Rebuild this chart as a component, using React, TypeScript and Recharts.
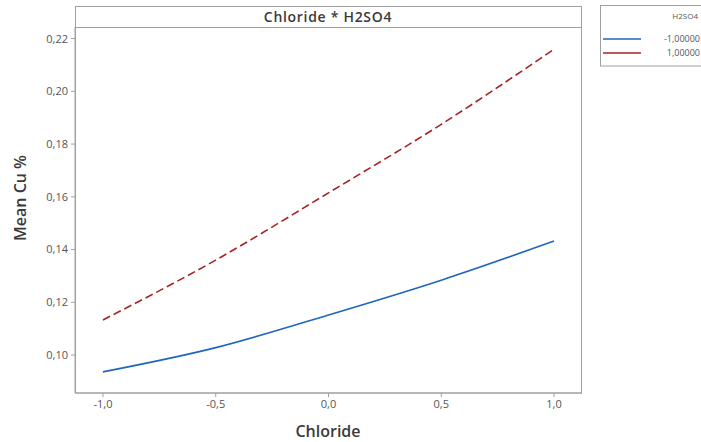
import React from 'react';
import { LineChart, Line, XAxis, YAxis } from 'recharts';

const chloride = [-1, -0.5, 0, 0.5, 1];
const h2so4Low = [0.0936, 0.1028, 0.1152, 0.1284, 0.1432];
const h2so4High = [0.1133, 0.136, 0.1615, 0.1875, 0.216];
const xTicks = [-1, -0.5, 0, 0.5, 1];
const yTicks = [0.1, 0.12, 0.14, 0.16, 0.18, 0.2, 0.22];

const data = chloride.map((c, i) => ({ c, low: h2so4Low[i], high: h2so4High[i] }));

const FONT = '"Open Sans", "DejaVu Sans", sans-serif';
const comma = (v: number, d: number) => v.toFixed(d).replace('.', ',');

export default function App() {
  return (
    <div style={{ position: 'absolute', left: 0, top: 0, width: 701, height: 442, background: '#fff', fontFamily: FONT }}>
      <LineChart width={701} height={442} data={data} margin={{ top: 27, right: 119, bottom: 19, left: 30 }}>
        <XAxis dataKey="c" type="number" domain={[-1.124, 1.124]} ticks={xTicks} allowDataOverflow
          tickFormatter={(v) => comma(v, 1)} tickSize={4} tickMargin={3} height={30}
          stroke="#a0a0a0" tick={{ fill: '#555', fontSize: 11, fontFamily: FONT }} />
        <YAxis type="number" domain={[0.0856, 0.2244]} ticks={yTicks} allowDataOverflow
          tickFormatter={(v) => comma(v, 2)} tickSize={4} tickMargin={3} width={45}
          stroke="#a0a0a0" tick={{ fill: '#555', fontSize: 11, fontFamily: FONT }} />
        <Line dataKey="low" type="monotone" stroke="#1f66c0" strokeWidth={1.6} dot={false} isAnimationActive={false} />
        <Line dataKey="high" type="monotone" stroke="#a82222" strokeWidth={1.6} strokeDasharray="8 4" dot={false} isAnimationActive={false} />
      </LineChart>
      <svg width={701} height={442} style={{ position: 'absolute', left: 0, top: 0, pointerEvents: 'none' }}>
        <rect x={75.5} y={6.5} width={506} height={386.5} fill="none" stroke="#a0a0a0" />
        <line x1={75.5} x2={581.5} y1={27.5} y2={27.5} stroke="#a0a0a0" />
        <text x={328} y={22} textAnchor="middle" fontSize={14} fontWeight={600} letterSpacing={0.7} fill="#3a3a3a" fontFamily={FONT}>Chloride * H2SO4</text>
        <text x={328} y={437} textAnchor="middle" fontSize={16} fontWeight={600} fill="#3a3a3a" fontFamily={FONT}>Chloride</text>
        <text x={26} y={198} textAnchor="middle" fontSize={16} fontWeight={600} fill="#3a3a3a" fontFamily={FONT}
          transform="rotate(-90 26 198)">Mean Cu %</text>
        <rect x={600.5} y={5.5} width={104} height={60.5} fill="#fff" stroke="#a0a0a0" />
        <text x={698} y={19} textAnchor="end" fontSize={8} fill="#555" fontFamily={FONT}>H2SO4</text>
        <line x1={603} x2={641} y1={39} y2={39} stroke="#1f66c0" strokeWidth={1.6} />
        <text x={700} y={42} textAnchor="end" fontSize={9} fill="#555" fontFamily={FONT}>-1,00000</text>
        <line x1={603} x2={641} y1={53} y2={53} stroke="#a82222" strokeWidth={1.6} />
        <text x={700} y={56} textAnchor="end" fontSize={9} fill="#555" fontFamily={FONT}>1,00000</text>
      </svg>
    </div>
  );
}
